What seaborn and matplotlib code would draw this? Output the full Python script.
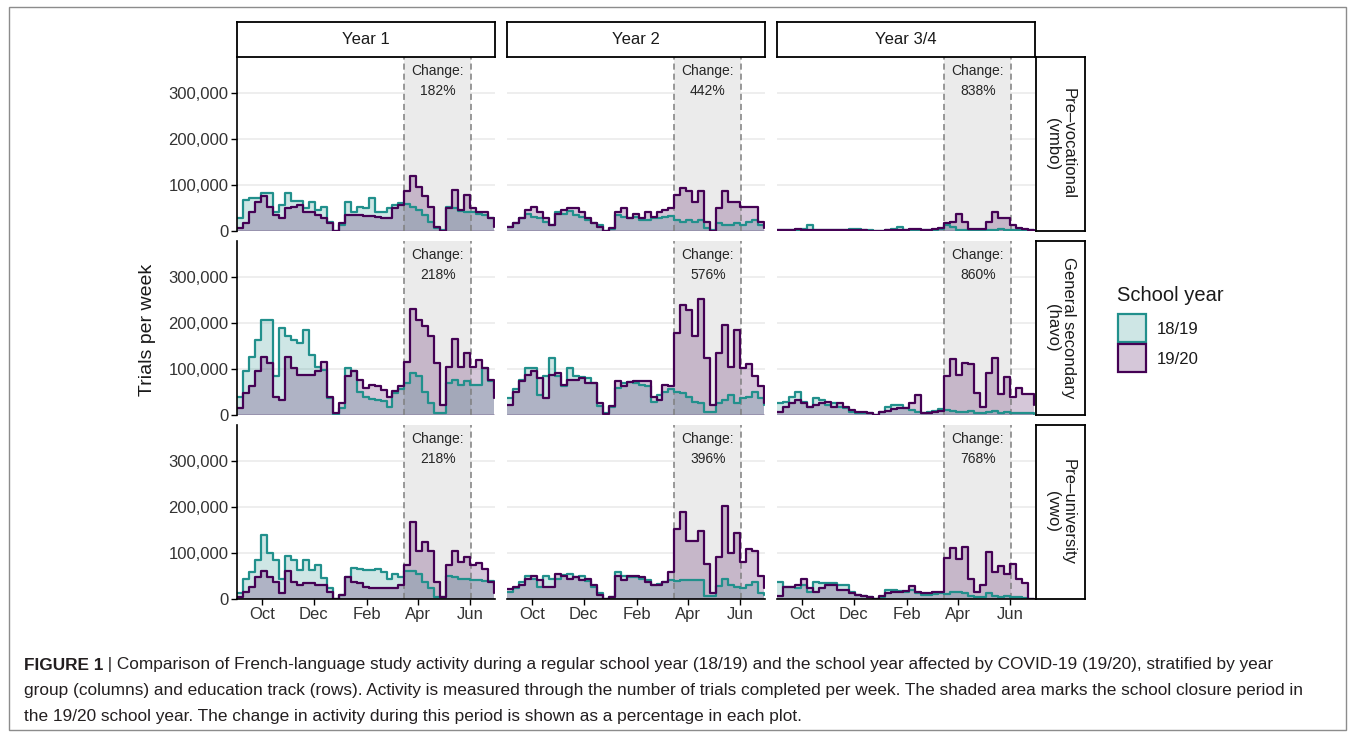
import numpy as np
import pandas as pd
import matplotlib
matplotlib.use("Agg")
import matplotlib.pyplot as plt
import matplotlib.dates as mdates
from matplotlib.patches import Rectangle
from matplotlib.colors import to_rgba
from matplotlib.ticker import FuncFormatter
import seaborn as sns

# ---------------------------------------------------------------------------
# Weekly trial counts (thousands of trials per week), one value per week
# starting Monday 2 September of the school year.
# ---------------------------------------------------------------------------
TRIALS_UNIT = 1000

year_groups = ["Year 1", "Year 2", "Year 3/4"]
tracks = ["Pre\u2013vocational\n(vmbo)", "General secondary\n(havo)", "Pre\u2013university\n(vwo)"]
school_years = ["18/19", "19/20"]
month_ticks = ["Oct", "Dec", "Feb", "Apr", "Jun"]

# Pre-vocational (vmbo)
vmbo_y1_1819 = [28, 67, 71, 71, 82, 82, 42, 57, 83, 66, 66, 49, 64, 46, 53, 20, 0, 13, 64, 42, 53, 49,
                71, 42, 42, 49, 57, 60, 58, 53, 46, 35, 20, 6, 2, 53, 49, 43, 42, 42, 36, 35, 28, 24]
vmbo_y1_1920 = [6, 17, 42, 64, 75, 53, 35, 28, 49, 53, 57, 42, 42, 35, 28, 17, 0, 17, 35, 35, 35, 33,
                33, 31, 28, 28, 51, 57, 86, 120, 96, 75, 53, 9, 0, 49, 89, 46, 78, 49, 42, 42, 28, 9]
vmbo_y2_1819 = [9, 17, 28, 38, 31, 28, 20, 13, 42, 38, 43, 35, 31, 24, 17, 13, 0, 4, 35, 31, 28, 31,
                24, 24, 28, 29, 31, 33, 24, 20, 24, 20, 24, 6, 2, 17, 13, 13, 17, 14, 20, 24, 13, 9]
vmbo_y2_1920 = [9, 17, 28, 46, 53, 42, 28, 13, 38, 46, 49, 51, 42, 28, 17, 9, 0, 6, 42, 49, 28, 38,
                28, 42, 31, 42, 46, 49, 78, 94, 86, 64, 86, 20, 0, 49, 86, 64, 64, 53, 53, 53, 20, 6]
vmbo_y34_1819 = [3, 2, 3, 3, 5, 12, 3, 2, 3, 3, 3, 3, 4, 5, 3, 2, 0, 1, 3, 4, 8, 3,
                 3, 3, 2, 2, 3, 5, 12, 8, 3, 2, 2, 1, 1, 2, 3, 4, 3, 2, 2, 2, 2, 1]
vmbo_y34_1920 = [2, 3, 3, 4, 3, 3, 2, 2, 3, 3, 3, 3, 2, 2, 2, 1, 0, 1, 3, 3, 3, 3,
                 4, 4, 2, 2, 5, 6, 17, 20, 36, 20, 5, 4, 4, 20, 42, 29, 29, 12, 7, 5, 2, 0]

# General secondary (havo)
havo_y1_1819 = [40, 95, 127, 164, 206, 206, 84, 189, 171, 164, 156, 184, 131, 105, 97, 36, 0, 15, 102, 95, 51, 40,
                34, 33, 31, 18, 47, 56, 69, 92, 84, 51, 25, 5, 5, 69, 75, 65, 73, 65, 65, 102, 73, 51]
havo_y1_1920 = [15, 47, 62, 95, 126, 113, 40, 33, 127, 102, 87, 87, 87, 95, 116, 40, 4, 25, 84, 95, 76, 58,
                65, 62, 55, 40, 53, 62, 116, 230, 207, 193, 171, 113, 22, 105, 165, 105, 135, 105, 119, 102, 76, 36]
havo_y2_1819 = [36, 56, 76, 102, 102, 44, 84, 124, 84, 63, 102, 84, 82, 80, 69, 20, 4, 18, 58, 69, 71, 69,
                65, 62, 29, 44, 51, 56, 51, 47, 40, 29, 25, 7, 7, 25, 33, 44, 25, 36, 40, 51, 36, 22]
havo_y2_1920 = [22, 51, 73, 87, 95, 80, 36, 87, 92, 65, 76, 76, 80, 69, 69, 25, 2, 20, 73, 62, 71, 73,
                73, 73, 40, 33, 65, 62, 178, 240, 228, 171, 252, 124, 22, 135, 196, 105, 184, 102, 111, 84, 62, 25]
havo_y34_1819 = [25, 29, 40, 49, 29, 18, 38, 33, 22, 25, 18, 15, 7, 4, 4, 4, 0, 7, 18, 22, 22, 15,
                 11, 7, 5, 7, 9, 12, 11, 9, 7, 7, 9, 5, 5, 7, 9, 5, 7, 5, 5, 4, 4, 2]
havo_y34_1920 = [7, 18, 25, 33, 25, 18, 22, 25, 29, 18, 25, 18, 11, 7, 7, 4, 0, 7, 9, 12, 15, 16,
                 25, 44, 5, 4, 7, 9, 84, 121, 87, 113, 111, 47, 18, 91, 124, 46, 82, 40, 58, 46, 46, 22]

# Pre-university (vwo)
vwo_y1_1819 = [12, 44, 59, 84, 139, 99, 84, 44, 93, 84, 62, 84, 64, 73, 46, 23, 1, 9, 48, 67, 66, 62,
               64, 66, 59, 44, 55, 48, 60, 60, 55, 37, 23, 5, 5, 50, 48, 43, 44, 41, 41, 39, 39, 30]
vwo_y1_1920 = [5, 16, 26, 48, 60, 48, 37, 12, 61, 37, 31, 34, 34, 30, 30, 16, 1, 9, 48, 37, 34, 26,
               23, 23, 23, 23, 23, 30, 73, 167, 105, 123, 105, 37, 5, 73, 105, 80, 91, 73, 79, 66, 37, 12]
vwo_y2_1819 = [16, 23, 37, 51, 44, 26, 51, 44, 44, 53, 55, 48, 50, 39, 26, 12, 1, 5, 59, 50, 48, 48,
               44, 41, 31, 33, 37, 41, 39, 41, 41, 41, 41, 7, 7, 29, 44, 31, 26, 23, 30, 37, 14, 9]
vwo_y2_1920 = [21, 26, 30, 43, 51, 41, 26, 26, 55, 51, 44, 48, 41, 44, 30, 9, 1, 5, 51, 41, 51, 51,
               48, 37, 30, 30, 37, 59, 151, 189, 126, 126, 148, 76, 12, 91, 201, 101, 143, 80, 109, 105, 51, 23]
vwo_y34_1819 = [37, 26, 26, 23, 30, 16, 37, 34, 34, 34, 31, 30, 16, 9, 7, 5, 1, 5, 19, 19, 17, 16,
                19, 12, 9, 9, 10, 12, 10, 16, 16, 12, 7, 5, 5, 12, 7, 5, 7, 5, 5, 3, 1, 1]
vwo_y34_1920 = [7, 26, 26, 31, 43, 24, 16, 23, 31, 31, 19, 19, 12, 9, 7, 5, 1, 7, 12, 16, 16, 17,
                29, 16, 12, 12, 16, 16, 89, 110, 87, 114, 44, 16, 30, 103, 59, 71, 55, 76, 43, 34, 1, 0]

# Change in activity during the closure period (%)
change_pct = {
    tracks[0]: [182, 442, 838],
    tracks[1]: [218, 576, 860],
    tracks[2]: [218, 396, 768],
}

panel_series = {
    (tracks[0], "Year 1"): (vmbo_y1_1819, vmbo_y1_1920),
    (tracks[0], "Year 2"): (vmbo_y2_1819, vmbo_y2_1920),
    (tracks[0], "Year 3/4"): (vmbo_y34_1819, vmbo_y34_1920),
    (tracks[1], "Year 1"): (havo_y1_1819, havo_y1_1920),
    (tracks[1], "Year 2"): (havo_y2_1819, havo_y2_1920),
    (tracks[1], "Year 3/4"): (havo_y34_1819, havo_y34_1920),
    (tracks[2], "Year 1"): (vwo_y1_1819, vwo_y1_1920),
    (tracks[2], "Year 2"): (vwo_y2_1819, vwo_y2_1920),
    (tracks[2], "Year 3/4"): (vwo_y34_1819, vwo_y34_1920),
}

week_start = pd.date_range("2019-09-02", periods=44, freq="7D")
closure_start = pd.Timestamp("2020-03-16")
closure_end = pd.Timestamp("2020-06-02")

records = []
for (track, group), pair in panel_series.items():
    for sy, vals in zip(school_years, pair):
        for wk, v in zip(week_start, vals):
            records.append({"track": track, "group": group, "school_year": sy,
                            "week": wk, "trials": v * TRIALS_UNIT})
df = pd.DataFrame(records)

# ---------------------------------------------------------------------------
# Styling
# ---------------------------------------------------------------------------
sns.set_theme(style="white")
plt.rcParams["font.family"] = ["Liberation Sans", "DejaVu Sans"]
plt.rcParams["axes.unicode_minus"] = False

palette = {"18/19": "#21908C", "19/20": "#440154"}
FILL_ALPHA = 0.22
TEXT = "#1a1a1a"
TICK_TEXT = "#333333"

W, H = 1355, 737
fig = plt.figure(figsize=(W / 100, H / 100), dpi=100)
fig.patch.set_facecolor("white")


def box(x0, y0, x1, y1):
    """Figure-fraction rectangle from pixel edges (origin top-left)."""
    return [x0 / W, 1 - y1 / H, (x1 - x0) / W, (y1 - y0) / H]


col_x = [(237, 495), (507, 765), (777, 1035)]
row_y = [(57, 231), (241, 415), (425, 599)]
strip_top = (22, 57)
row_strip_x = (1036, 1085)

y_max = 378000
x_min = mdates.date2num(pd.Timestamp("2019-09-02"))
x_max = mdates.date2num(pd.Timestamp("2020-06-30"))


def strip(rect, label, rotation=0):
    sax = fig.add_axes(box(*rect))
    sax.set_xticks([])
    sax.set_yticks([])
    sax.set_facecolor("white")
    for sp in sax.spines.values():
        sp.set_visible(True)
        sp.set_color("black")
        sp.set_linewidth(1.3)
    sax.text(0.5, 0.5, label, ha="center", va="center", rotation=rotation,
             fontsize=12, color=TEXT, linespacing=1.05, transform=sax.transAxes)
    return sax


for i, track in enumerate(tracks):
    for j, group in enumerate(year_groups):
        x0, x1 = col_x[j]
        y0, y1 = row_y[i]
        ax = fig.add_axes(box(x0, y0, x1, y1))
        ax.set_facecolor("white")
        sub = df[(df["track"] == track) & (df["group"] == group)]

        # closure period
        ax.axvspan(closure_start, closure_end, color="#ebebeb", lw=0, zorder=0.6)

        for sy in school_years:
            s = sub[sub["school_year"] == sy]
            ax.fill_between(s["week"], s["trials"], step="post",
                            color=palette[sy], alpha=FILL_ALPHA, lw=0, zorder=1)
        ax.axhline(0, color=palette["19/20"], lw=0.9, zorder=1.2)

        for d in (closure_start, closure_end):
            ax.axvline(d, color="#7f7f7f", lw=1.1, ls=(0, (4, 2.6)), zorder=1.5)

        sns.lineplot(data=sub, x="week", y="trials", hue="school_year",
                     hue_order=school_years, palette=palette, estimator=None,
                     drawstyle="steps-post", lw=1.6, legend=False, ax=ax, zorder=2)

        mid = closure_start + (closure_end - closure_start) / 2
        ax.text(mid, 363000, f"Change:\n{change_pct[track][j]}%", ha="center", va="top",
                fontsize=10, color="#262626", linespacing=1.55, zorder=3)

        ax.set_xlim(x_min, x_max)
        ax.set_ylim(0, y_max)
        ax.set_xlabel("")
        ax.set_ylabel("")

        ax.set_yticks([0, 100000, 200000, 300000])
        ax.yaxis.set_major_formatter(FuncFormatter(lambda v, p: f"{int(v):,}"))
        ax.yaxis.grid(True, color="#ebebeb", lw=1.2, zorder=0.5)
        ax.xaxis.grid(False)
        ax.set_axisbelow(True)

        ax.xaxis.set_major_locator(mdates.MonthLocator(bymonth=[10, 12, 2, 4, 6]))
        ax.xaxis.set_major_formatter(mdates.DateFormatter("%b"))

        for name, sp in ax.spines.items():
            sp.set_visible(False)
        if j == 0:
            ax.spines["left"].set_visible(True)
            ax.spines["left"].set_color("black")
            ax.spines["left"].set_linewidth(1.2)
            ax.tick_params(axis="y", left=True, length=4, width=1.0, color="black",
                           labelsize=12, labelcolor=TICK_TEXT, pad=2)
        else:
            ax.tick_params(axis="y", left=False, labelleft=False)
        if i == len(tracks) - 1:
            ax.spines["bottom"].set_visible(True)
            ax.spines["bottom"].set_color("black")
            ax.spines["bottom"].set_linewidth(1.2)
            ax.tick_params(axis="x", bottom=True, length=4, width=1.0, color="black",
                           labelsize=12, labelcolor=TICK_TEXT, pad=2)
        else:
            ax.tick_params(axis="x", bottom=False, labelbottom=False)

        if i == 0:
            strip((x0, strip_top[0], x1, strip_top[1]), group)
    strip((row_strip_x[0], row_y[i][0], row_strip_x[1], row_y[i][1]), track, rotation=-90)

fig.text(148 / W, 1 - 330 / H, "Trials per week", rotation=90, ha="center", va="center",
         fontsize=14, color=TEXT)

# legend
fig.text(1117 / W, 1 - 295 / H, "School year", ha="left", va="center", fontsize=14.5, color=TEXT)
for k, sy in enumerate(school_years):
    top = 314 + 30 * k
    fig.add_artist(Rectangle((1118 / W, 1 - (top + 28) / H), 28 / W, 28 / H,
                             transform=fig.transFigure,
                             facecolor=to_rgba(palette[sy], FILL_ALPHA),
                             edgecolor=palette[sy], lw=1.6))
    fig.text(1157 / W, 1 - (top + 15) / H, sy, ha="left", va="center", fontsize=12, color=TEXT)

# outer frame
fig.add_artist(Rectangle((9 / W, 1 - 730 / H), (1346 - 9) / W, (730 - 7) / H,
                         transform=fig.transFigure, fill=False, edgecolor="#8c8c8c", lw=1.0))

# caption
cap_font = ["Liberation Sans Narrow", "Liberation Sans", "DejaVu Sans"]
cap_color = "#231f20"
cap_bold = "FIGURE 1"
cap_lines = [
    " | Comparison of French-language study activity during a regular school year (18/19) and the school year affected by COVID-19 (19/20), stratified by year",
    "group (columns) and education track (rows). Activity is measured through the number of trials completed per week. The shaded area marks the school closure period in",
    "the 19/20 school year. The change in activity during this period is shown as a percentage in each plot.",
]
renderer = fig.canvas.get_renderer()
probe = fig.text(0, 0, cap_lines[1], fontsize=13, family=cap_font)
cap_size = 13 * 1276 / probe.get_window_extent(renderer).width
probe.remove()

cap_y = [665, 691, 717]
bold = fig.text(24 / W, 1 - cap_y[0] / H, cap_bold, fontsize=cap_size, family=cap_font,
                fontweight="bold", color=cap_color, va="center", ha="left")
bw = bold.get_window_extent(renderer).width
fig.text((24 + bw) / W, 1 - cap_y[0] / H, cap_lines[0], fontsize=cap_size, family=cap_font,
         color=cap_color, va="center", ha="left")
for line, yy in zip(cap_lines[1:], cap_y[1:]):
    fig.text(24 / W, 1 - yy / H, line, fontsize=cap_size, family=cap_font,
             color=cap_color, va="center", ha="left")

fig.savefig("out.png", dpi=100, facecolor="white")
